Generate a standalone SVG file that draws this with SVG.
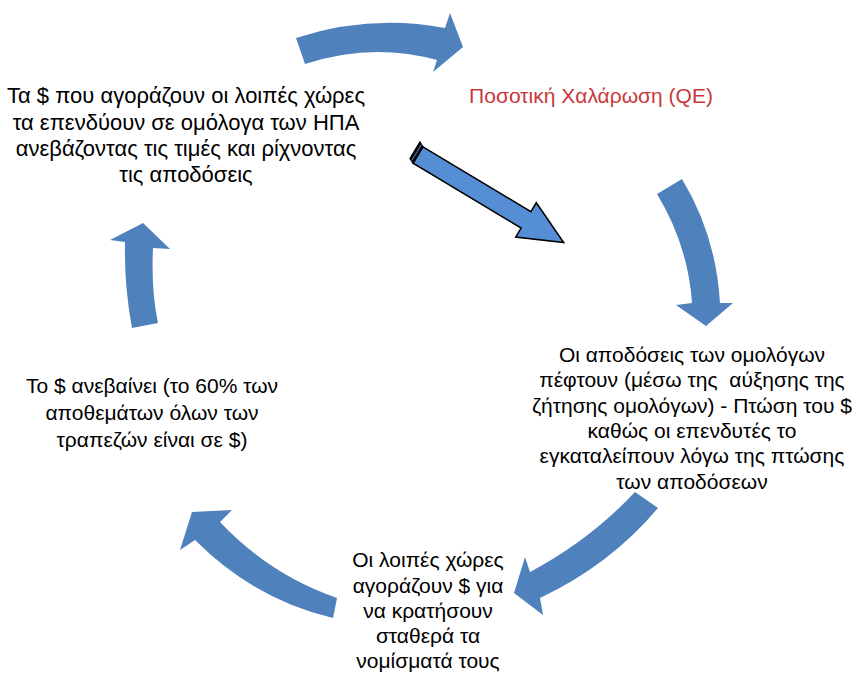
<svg xmlns="http://www.w3.org/2000/svg" width="862" height="673" viewBox="0 0 862 673">
<style>
.t{font-family:"Liberation Sans",Arial,sans-serif;font-size:21px;fill:#000;text-anchor:middle;white-space:pre}
.big{font-size:22px}
.red{fill:#C8383A}
.arr{fill:#4F81BD;stroke:none}
</style>
<rect width="862" height="673" fill="#fff"/>
<g id="connectors">
<path id="a1" class="arr" d="M296,38 Q370,14 445,28 L450,13 L463,47 L433,72 L437,60 Q372,42 305,64 Z"/>
<g id="a2" transform="translate(418,155) rotate(31)">
<path d="M0,-9.5 H126 V-20 L170,0 L126,20 V9.5 H0 Z" fill="#558ED5" stroke="#000" stroke-width="1.5" stroke-linejoin="miter"/>
<path d="M0,-9.5 L-5,-12 L-5,7 L0,9.5 Z" fill="#111" stroke="#000" stroke-width="1.5"/>
<line x1="-2.5" y1="-10.5" x2="-2.5" y2="8" stroke="#558ED5" stroke-width="0.8"/>
</g>
<path id="a3" class="arr" d="M682,179 Q716,235 720,303 L733,303 L706,326 L676,305 L692,303 Q688,245 657,194 Z"/>
<path id="a4" class="arr" d="M635,492 Q590,540 530,572 L525,557 L514,593 L543,615 L540,598 Q610,565 658,508 Z"/>
<path id="a5" class="arr" d="M337,598 Q270,575 220,522 L232,510 L192,512 L180,550 L195,540 Q255,600 333,618 Z"/>
<path id="a6" class="arr" d="M132,328 Q124,285 125,242 L110,240 L143,223 L170,249 L153,248 Q151,290 158,323 Z"/>
</g>
<g id="n1">
<text class="t big" x="186" y="103">Τα $ που αγοράζουν οι λοιπές χώρες</text>
<text class="t big" x="186" y="130">τα επενδύουν σε ομόλογα των ΗΠΑ</text>
<text class="t big" x="186" y="156">ανεβάζοντας τις τιμές και ρίχνοντας</text>
<text class="t big" x="186" y="182">τις αποδόσεις</text>
</g>
<g id="n2">
<text class="t red" x="591" y="103">Ποσοτική Χαλάρωση (QE)</text>
</g>
<g id="n3">
<text class="t" x="692" y="362">Οι αποδόσεις των ομολόγων</text>
<text class="t" x="692" y="387" xml:space="preserve">πέφτουν (μέσω της  αύξησης της</text>
<text class="t" x="692" y="413">ζήτησης ομολόγων) - Πτώση του $</text>
<text class="t" x="692" y="438">καθώς οι επενδυτές το</text>
<text class="t" x="692" y="463">εγκαταλείπουν λόγω της πτώσης</text>
<text class="t" x="692" y="489">των αποδόσεων</text>
</g>
<g id="n4">
<text class="t" x="428" y="567">Οι λοιπές χώρες</text>
<text class="t" x="428" y="593">αγοράζουν $ για</text>
<text class="t" x="428" y="618">να κρατήσουν</text>
<text class="t" x="428" y="643">σταθερά τα</text>
<text class="t" x="428" y="668">νομίσματά τους</text>
</g>
<g id="n5">
<text class="t" x="152" y="393">Το $ ανεβαίνει (το 60% των</text>
<text class="t" x="152" y="420">αποθεμάτων όλων των</text>
<text class="t" x="152" y="447">τραπεζών είναι σε $)</text>
</g>
</svg>
